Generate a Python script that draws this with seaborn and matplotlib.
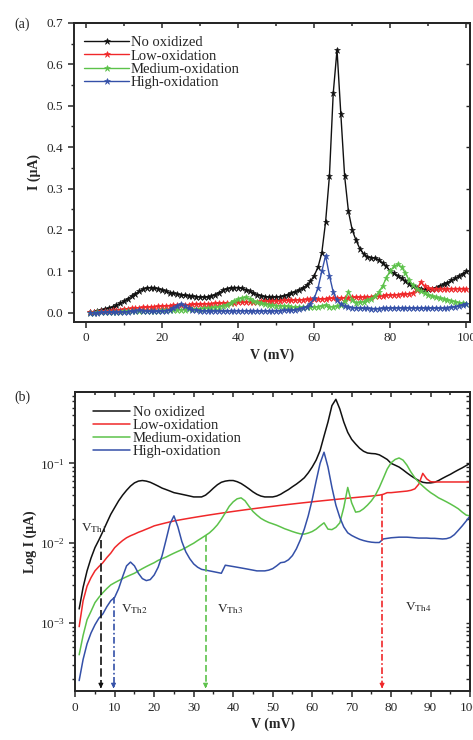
import matplotlib
matplotlib.use("Agg")
import matplotlib.pyplot as plt
import matplotlib.ticker as mticker
import seaborn as sns
import numpy as np
import pandas as pd

# voltage steps (mV)
volts = list(range(1, 101))

# current (uA)
no_oxidized = [
    0.0015, 0.0028, 0.0045, 0.0065, 0.0088, 0.011, 0.014, 0.018, 0.023, 0.028,
    0.034, 0.040, 0.046, 0.052, 0.057, 0.060, 0.061, 0.060, 0.058, 0.055,
    0.052, 0.049, 0.047, 0.045, 0.043, 0.042, 0.041, 0.040, 0.039, 0.038,
    0.038, 0.038, 0.040, 0.044, 0.049, 0.054, 0.058, 0.060, 0.061, 0.061,
    0.059, 0.056, 0.052, 0.048, 0.044, 0.041, 0.039, 0.038, 0.038, 0.038,
    0.039, 0.041, 0.044, 0.047, 0.051, 0.055, 0.060, 0.066, 0.076, 0.090,
    0.110, 0.145, 0.220, 0.330, 0.530, 0.635, 0.480, 0.330, 0.245, 0.200,
    0.175, 0.155, 0.142, 0.135, 0.133, 0.132, 0.128, 0.120, 0.112, 0.100,
    0.095, 0.090, 0.083, 0.076, 0.070, 0.065, 0.061, 0.058, 0.057, 0.057,
    0.058, 0.061, 0.065, 0.069, 0.073, 0.078, 0.083, 0.088, 0.094, 0.100,
]
low_oxidation = [
    0.0009, 0.0019, 0.0029, 0.0037, 0.0045, 0.0051, 0.0057, 0.0066, 0.0075, 0.0088,
    0.0098, 0.0108, 0.0117, 0.0124, 0.0130, 0.0137, 0.0143, 0.0150, 0.0157, 0.0165,
    0.0170, 0.0175, 0.0180, 0.0185, 0.0190, 0.0194, 0.0198, 0.0202, 0.0206, 0.0210,
    0.0214, 0.0218, 0.0222, 0.0226, 0.0230, 0.0234, 0.0238, 0.0242, 0.0246, 0.0250,
    0.0254, 0.0258, 0.0262, 0.0266, 0.0270, 0.0274, 0.0278, 0.0282, 0.0286, 0.0290,
    0.0294, 0.0298, 0.0302, 0.0306, 0.0310, 0.0314, 0.0318, 0.0322, 0.0326, 0.0330,
    0.0334, 0.0338, 0.0342, 0.0346, 0.0350, 0.0354, 0.0358, 0.0362, 0.0366, 0.0370,
    0.0374, 0.0378, 0.0382, 0.0386, 0.0390, 0.0395, 0.0400, 0.0410, 0.0430, 0.0430,
    0.0435, 0.0440, 0.0445, 0.0450, 0.0460, 0.0480, 0.0550, 0.0750, 0.0640, 0.0590,
    0.0585, 0.0585, 0.0585, 0.0585, 0.0585, 0.0585, 0.0585, 0.0585, 0.0585, 0.0585,
]
medium_oxidation = [
    0.0004, 0.0007, 0.0011, 0.0014, 0.0018, 0.0021, 0.0024, 0.0027, 0.0030, 0.0032,
    0.0034, 0.0036, 0.0038, 0.0040, 0.0042, 0.0045, 0.0048, 0.0051, 0.0054, 0.0057,
    0.0061, 0.0064, 0.0067, 0.0071, 0.0075, 0.0079, 0.0083, 0.0088, 0.0094, 0.0100,
    0.0108, 0.0116, 0.0125, 0.0135, 0.0150, 0.0170, 0.0200, 0.0240, 0.0290, 0.0330,
    0.0360, 0.0370, 0.0340, 0.0290, 0.0250, 0.0225, 0.0205, 0.0192, 0.0182, 0.0175,
    0.0168, 0.0160, 0.0152, 0.0146, 0.0140, 0.0135, 0.0131, 0.0130, 0.0134, 0.0140,
    0.0150, 0.0165, 0.0180, 0.0150, 0.0148, 0.0158, 0.0180, 0.0280, 0.0500, 0.0320,
    0.0245, 0.0250, 0.0270, 0.0300, 0.0340, 0.0400, 0.0500, 0.0650, 0.0850, 0.1020,
    0.1120, 0.1170, 0.1100, 0.0950, 0.0780, 0.0660, 0.0580, 0.0520, 0.0470, 0.0430,
    0.0400, 0.0370, 0.0350, 0.0330, 0.0310, 0.0290, 0.0270, 0.0245, 0.0225, 0.0220,
]
high_oxidation = [
    0.00019, 0.00035, 0.00055, 0.00075, 0.00095, 0.00115, 0.0013, 0.0016, 0.0019, 0.0021,
    0.0027, 0.0038, 0.0052, 0.0058, 0.0052, 0.0042, 0.0036, 0.0034, 0.0035, 0.0040,
    0.0050, 0.0070, 0.0110, 0.0175, 0.0220, 0.0160, 0.0105, 0.0078, 0.0064, 0.0055,
    0.0050, 0.0047, 0.0046, 0.0045, 0.0044, 0.0043, 0.0042, 0.0053, 0.0052, 0.0051,
    0.0050, 0.0049, 0.0048, 0.0047, 0.0046, 0.0045, 0.0045, 0.0045, 0.0046, 0.0048,
    0.0052, 0.0057, 0.0058, 0.0062, 0.0070, 0.0085, 0.0110, 0.0150, 0.0220, 0.0350,
    0.0600, 0.1000, 0.1380, 0.0900, 0.0500, 0.0300, 0.0210, 0.0160, 0.0135, 0.0125,
    0.0118, 0.0112, 0.0108, 0.0105, 0.0103, 0.0102, 0.0102, 0.0113, 0.0115, 0.0117,
    0.0118, 0.0119, 0.0119, 0.0119, 0.0118, 0.0117, 0.0116, 0.0116, 0.0116, 0.0115,
    0.0115, 0.0114, 0.0113, 0.0114, 0.0118, 0.0128, 0.0145, 0.0165, 0.0190, 0.0220,
]

labels = ["No oxidized", "Low-oxidation", "Medium-oxidation", "High-oxidation"]
colors = ["#111111", "#f0282a", "#5cc24a", "#3450a8"]
series = [no_oxidized, low_oxidation, medium_oxidation, high_oxidation]

# threshold voltages (mV) for each sample
th_names = ["V$_{\\rm Th1}$", "V$_{\\rm Th2}$", "V$_{\\rm Th3}$", "V$_{\\rm Th4}$"]
th_volts = [6.5, 9.7, 33, 77.7]
th_series = [0, 3, 2, 1]
th_styles = [(0, (5, 2)), (0, (4, 1.5, 1, 1.5)), (0, (4, 2)), (0, (4, 1.5, 1, 1.5))]

df = pd.DataFrame({"V": volts})
for lab, s in zip(labels, series):
    df[lab] = s

sns.set_style("ticks")
plt.rcParams["font.family"] = ["Liberation Serif", "DejaVu Serif"]
plt.rcParams["mathtext.fontset"] = "stix"
plt.rcParams["axes.linewidth"] = 1.4

fig = plt.figure(figsize=(4.73, 7.40), dpi=100)
ax1 = fig.add_axes([0.156, 0.565, 0.838, 0.404])
ax2 = fig.add_axes([0.159, 0.066, 0.835, 0.404])

# ---- (a) linear ----
for lab, col in zip(labels, colors):
    sns.lineplot(data=df, x="V", y=lab, ax=ax1, color=col, lw=1.0,
                 marker="*", markersize=4.5, markeredgewidth=0.4,
                 markeredgecolor=col, label=lab)
ax1.set_xlim(-3.2, 101)
ax1.set_ylim(-0.022, 0.7)
ax1.xaxis.set_major_locator(mticker.MultipleLocator(20))
ax1.xaxis.set_minor_locator(mticker.MultipleLocator(10))
ax1.yaxis.set_major_locator(mticker.MultipleLocator(0.1))
ax1.yaxis.set_minor_locator(mticker.MultipleLocator(0.05))
ax1.yaxis.set_major_formatter(mticker.FormatStrFormatter("%.1f"))
ax1.set_xlabel("V (mV)", fontsize=10, fontweight="bold", labelpad=3)
ax1.set_ylabel("I (μA)", fontsize=10, fontweight="bold", labelpad=4)
ax1.legend(loc="upper left", frameon=False, fontsize=10.5, handlelength=3.1,
           handletextpad=0.1, labelspacing=0.0, borderaxespad=0.3,
           bbox_to_anchor=(0.0, 0.99))
fig.text(0.03, 0.967, "(a)", fontsize=10, va="center")

# ---- (b) log ----
for lab, col in zip(labels, colors):
    sns.lineplot(data=df, x="V", y=lab, ax=ax2, color=col, lw=1.1, label=lab)
ax2.set_yscale("log")
ax2.set_xlim(0, 100)
ax2.set_ylim(1.4e-4, 0.78)
ax2.xaxis.set_major_locator(mticker.MultipleLocator(10))
ax2.xaxis.set_minor_locator(mticker.MultipleLocator(5))
ax2.yaxis.set_major_locator(mticker.LogLocator(base=10, numticks=10))
ax2.yaxis.set_minor_locator(mticker.LogLocator(base=10, subs=np.arange(2, 10), numticks=10))
ax2.yaxis.set_minor_formatter(mticker.NullFormatter())
ax2.set_xlabel("V (mV)", fontsize=10, fontweight="bold", labelpad=3)
ax2.set_ylabel("Log I (μA)", fontsize=10, fontweight="bold", labelpad=2)
ax2.legend(loc="upper left", frameon=False, fontsize=10.5, handlelength=2.5,
           handletextpad=0.2, labelspacing=0.0, borderaxespad=0.3,
           bbox_to_anchor=(0.02, 0.99))
fig.text(0.03, 0.463, "(b)", fontsize=10, va="center")

# threshold markers
bottom = ax2.get_ylim()[0]
for name, v, si, ls in zip(th_names, th_volts, th_series, th_styles):
    col = colors[si]
    start = series[si][int(round(v)) - 1]
    ax2.plot([v, v], [start, bottom * 1.12], color=col, lw=1.2, linestyle=ls)
    ax2.annotate("", xy=(v, bottom), xytext=(v, bottom * 1.25),
                 arrowprops=dict(arrowstyle="-|>", color=col, lw=0.8,
                                 mutation_scale=7))

ax2.text(1.5, 0.0125, th_names[0], fontsize=9.5, va="bottom")
ax2.text(11.5, 1.35e-3, th_names[1], fontsize=9.5)
ax2.text(36, 1.35e-3, th_names[2], fontsize=9.5)
ax2.text(83.5, 1.45e-3, th_names[3], fontsize=9.5)

for ax in (ax1, ax2):
    ax.tick_params(axis="both", which="major", labelsize=9.5, length=4, width=1.1,
                   direction="out")
    ax.tick_params(axis="both", which="minor", length=2.5, width=1.0, direction="out")
    for side in ("top", "right"):
        ax.spines[side].set_visible(True)
    sec_x = ax.secondary_xaxis("top")
    sec_x.set_xticks(ax.get_xticks())
    sec_x.xaxis.set_minor_locator(ax.xaxis.get_minor_locator())
    sec_x.tick_params(which="both", direction="in", length=3.5, width=1.1)
    sec_x.tick_params(which="minor", length=2.5)
    sec_x.set_xticklabels([])
    sec_y = ax.secondary_yaxis("right")
    sec_y.tick_params(which="both", direction="in", length=3, width=1.0,
                      labelright=False)
    sec_y.set_yticklabels([])

fig.savefig("out.png", dpi=100)
